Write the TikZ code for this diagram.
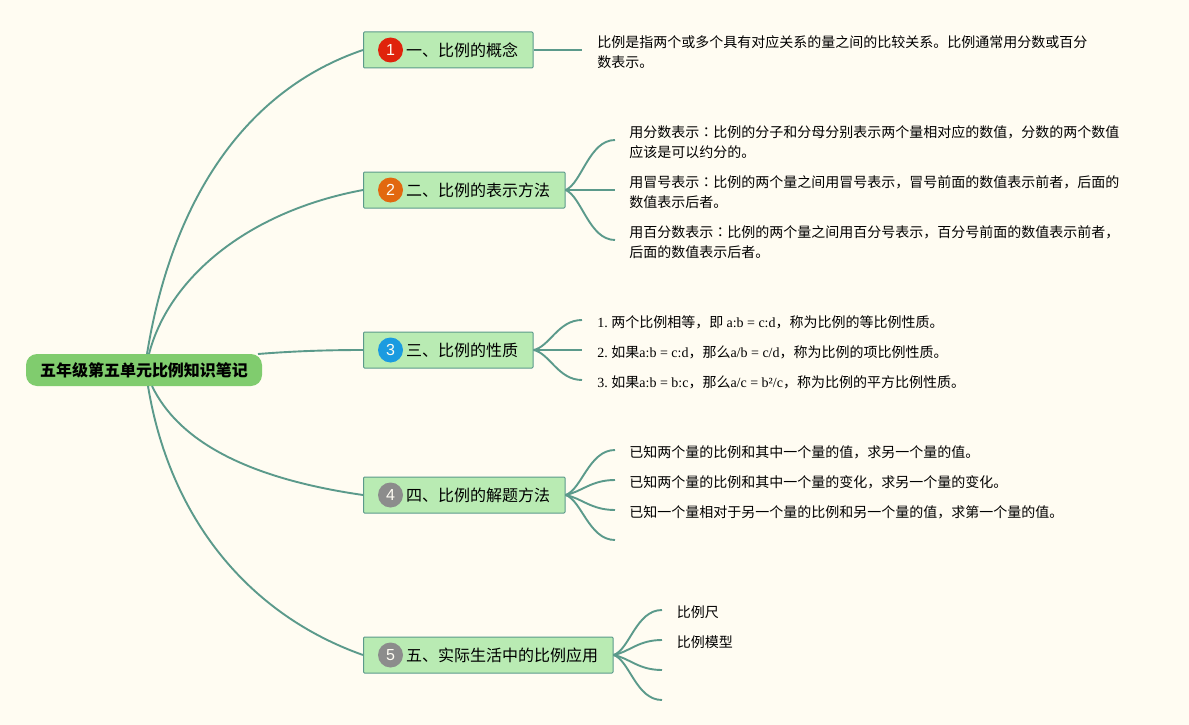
\documentclass[tikz,border=0pt]{standalone}
\usepackage{fontspec}
\setmainfont{Liberation Serif}
\newfontfamily\cjk{Noto Sans CJK SC}
\newfontfamily\cjktc{Noto Sans CJK TC}
\newfontfamily\numf{Liberation Sans}
\newcommand{\midcolon}{{\cjktc ：}}
\usetikzlibrary{arrows.meta, calc}
\definecolor{paper}{HTML}{FFFCF2}
\definecolor{linkc}{HTML}{5B9A8B}
\definecolor{topicc}{HTML}{B9EBB3}
\definecolor{rootc}{HTML}{80CC6E}
\definecolor{badgeA}{HTML}{E0230C}
\definecolor{badgeB}{HTML}{E2680F}
\definecolor{badgeC}{HTML}{1B9BE0}
\definecolor{badgeD}{HTML}{8C8C8C}
\tikzset{
  topic/.style={draw=linkc, fill=topicc, line width=1pt, rounded corners=1pt, anchor=west, minimum height=36pt, inner xsep=15pt, inner ysep=0pt, font=\fontsize{16}{20}\selectfont\cjk},
  badge/.style={circle, minimum size=25pt, inner sep=0pt, text=paper!85!white, font=\fontsize{16}{16}\selectfont\numf},
  note/.style={anchor=west, align=left, inner sep=0pt, xshift=-0.8pt, yshift=-1pt, font=\fontsize{14}{20}\selectfont\frenchspacing},
  link/.style={draw=linkc, line width=1.9pt},
}
\begin{document}
\begin{tikzpicture}[x=1pt,y=-1pt]
\useasboundingbox[fill=paper] (0,0) rectangle (1189,725);

% Main topics
\node[topic] (one) at (363,50) {\hspace*{27.5pt}\raisebox{-0.7pt}{一、比例的概念}};
\node[topic] (two) at (363,190) {\hspace*{27.5pt}\raisebox{-0.7pt}{二、比例的表示方法}};
\node[topic] (three) at (363,350) {\hspace*{27.5pt}\raisebox{-0.7pt}{三、比例的性质}};
\node[topic] (four) at (363,495) {\hspace*{27.5pt}\raisebox{-0.7pt}{四、比例的解题方法}};
\node[topic] (five) at (363,655) {\hspace*{27.5pt}\raisebox{-0.7pt}{五、实际生活中的比例应用}};

\node[badge, fill=badgeA] (bone) at (390.5,50) {1};
\node[badge, fill=badgeB] (btwo) at (390.5,190) {2};
\node[badge, fill=badgeC] (bthree) at (390.5,350) {3};
\node[badge, fill=badgeD] (bfour) at (390.5,495) {4};
\node[badge, fill=badgeD] (bfive) at (390.5,655) {5};

% Root and its links
\node[fill=rootc, rounded corners=11pt, minimum width=236pt, minimum height=32pt, inner sep=0pt, font=\fontsize{16}{20}\selectfont\cjk\bfseries] (root) at (144,370) {五年级第五单元比例知识笔记};
\coordinate (hubNa) at (147,354);
\coordinate (hubNb) at (149,354);
\coordinate (hubE) at (258,354);
\coordinate (hubSa) at (148,386);
\coordinate (hubSb) at (152,386);
\draw[link] (hubNa) .. controls (172,200) and (245,90) .. (one.west);
\draw[link] (hubNb) .. controls (168,280) and (245,212) .. (two.west);
\draw[link] (hubE) .. controls (295,351) and (330,350) .. (three.west);
\draw[link] (hubSb) .. controls (178,440) and (245,478) .. (four.west);
\draw[link] (hubSa) .. controls (170,520) and (250,615) .. (five.west);

% Leaves of one
\coordinate (endA) at (582,50);
\draw[link] (one.east) -- (endA);
\node[note] (noteA) at (598,51) {\cjk 比例是指两个或多个具有对应关系的量之间的比较关系。比例通常用分数或百分\\\cjk 数表示。};

% Leaves of two
\coordinate (endBa) at (615,140);
\coordinate (endBb) at (615,190);
\coordinate (endBc) at (615,240);
\draw[link] (two.east) .. controls +(16,-6) and +(-26,0) .. (endBa);
\draw[link] (two.east) -- (endBb);
\draw[link] (two.east) .. controls +(16,6) and +(-26,0) .. (endBc);
\node[note] (noteBa) at (630,141) {\cjk 用分数表示\midcolon 比例的分子和分母分别表示两个量相对应的数值，分数的两个数值\\\cjk 应该是可以约分的。};
\node[note] (noteBb) at (630,191) {\cjk 用冒号表示\midcolon 比例的两个量之间用冒号表示，冒号前面的数值表示前者，后面的\\\cjk 数值表示后者。};
\node[note] (noteBc) at (630,241) {\cjk 用百分数表示\midcolon 比例的两个量之间用百分号表示，百分号前面的数值表示前者，\\\cjk 后面的数值表示后者。};

% Leaves of three
\coordinate (endCa) at (582,320);
\coordinate (endCb) at (582,350);
\coordinate (endCc) at (582,380);
\draw[link] (three.east) .. controls +(16,-3) and +(-24,0) .. (endCa);
\draw[link] (three.east) -- (endCb);
\draw[link] (three.east) .. controls +(16,3) and +(-24,0) .. (endCc);
\node[note] (noteCa) at (598,321) {1. {\cjk 两个比例相等，即 }a:b = c:d{\cjk ，称为比例的等比例性质。}};
\node[note] (noteCb) at (598,351) {2. {\cjk 如果}a:b = c:d{\cjk ，那么}a/b = c/d{\cjk ，称为比例的项比例性质。}};
\node[note] (noteCc) at (598,381) {3. {\cjk 如果}a:b = b:c{\cjk ，那么}a/c = b²/c{\cjk ，称为比例的平方比例性质。}};

% Leaves of four
\coordinate (endDa) at (615,450);
\coordinate (endDb) at (615,480);
\coordinate (endDc) at (615,510);
\coordinate (endDd) at (615,540);
\draw[link] (four.east) .. controls +(16,-5) and +(-26,0) .. (endDa);
\draw[link] (four.east) .. controls +(16,-3) and +(-24,0) .. (endDb);
\draw[link] (four.east) .. controls +(16,3) and +(-24,0) .. (endDc);
\draw[link] (four.east) .. controls +(16,5) and +(-26,0) .. (endDd);
\node[note] (noteDa) at (630,451) {\cjk 已知两个量的比例和其中一个量的值，求另一个量的值。};
\node[note] (noteDb) at (630,481) {\cjk 已知两个量的比例和其中一个量的变化，求另一个量的变化。};
\node[note] (noteDc) at (630,511) {\cjk 已知一个量相对于另一个量的比例和另一个量的值，求第一个量的值。};

% Leaves of five
\coordinate (endEa) at (662,610);
\coordinate (endEb) at (662,640);
\coordinate (endEc) at (662,670);
\coordinate (endEd) at (662,700);
\draw[link] (five.east) .. controls +(16,-5) and +(-26,0) .. (endEa);
\draw[link] (five.east) .. controls +(16,-3) and +(-24,0) .. (endEb);
\draw[link] (five.east) .. controls +(16,3) and +(-24,0) .. (endEc);
\draw[link] (five.east) .. controls +(16,5) and +(-26,0) .. (endEd);
\node[note] (noteEa) at (677.5,611) {\cjk 比例尺};
\node[note] (noteEb) at (677.5,641) {\cjk 比例模型};
\end{tikzpicture}
\end{document}
